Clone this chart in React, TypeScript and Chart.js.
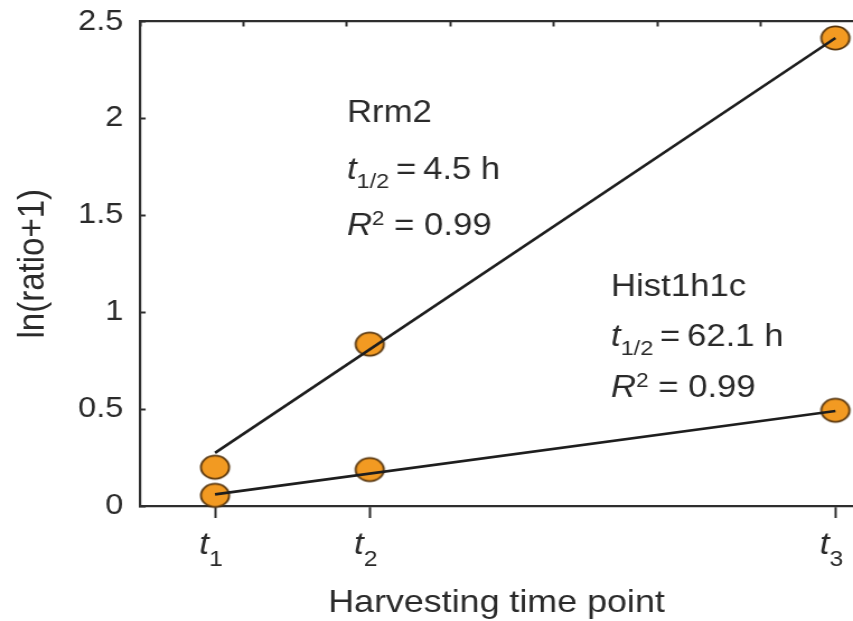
import React, { useEffect, useRef } from 'react';
import { Chart, registerables } from 'chart.js';

Chart.register(...registerables);

// ---- data ----
const timePoints = [0.725, 2.22, 6.72]; // positions of t1, t2, t3 on the time axis
const tickBase = 't';
const tickSubscripts = ['1', '2', '3'];
const rrm2Values = [0.2, 0.835, 2.415];
const hist1h1cValues = [0.055, 0.188, 0.494];
const rrm2FitEnds = [0.274, 2.415]; // fitted line at t1 and t3
const hist1h1cFitEnds = [0.06, 0.49];
const geneNames = ['Rrm2', 'Hist1h1c'];
const halfLives = ['4.5 h', '62.1 h'];
const rSquared = ['0.99', '0.99'];
const xAxisTitle = 'Harvesting time point';
const yAxisTitle = 'ln(ratio+1)';
const yMin = 0;
const yMax = 2.5;
const yStep = 0.5;
const xMin = 0;
const xMax = 6.89;

// ---- layout / style ----
const OUT_W = 853;
const OUT_H = 621;
const STRETCH = 1.12;
const IN_W = Math.round(OUT_W / STRETCH);
const S = OUT_W / IN_W;
const FONT = "'Liberation Sans', Arial, Helvetica, sans-serif";
const TEXT = '#2a2a2a';
const AXIS = '#2e2e2e';

type Seg = { text: string; size: number; italic?: boolean; dy?: number; gap?: number };

function segFont(s: Seg) {
  return `${s.italic ? 'italic ' : ''}${s.size}px ${FONT}`;
}

function drawRich(ctx: CanvasRenderingContext2D, segs: Seg[], x: number, y: number, center = false) {
  let total = 0;
  for (const s of segs) {
    ctx.font = segFont(s);
    total += (s.gap || 0) + ctx.measureText(s.text).width;
  }
  let cx = center ? x - total / 2 : x;
  for (const s of segs) {
    cx += s.gap || 0;
    ctx.font = segFont(s);
    ctx.fillText(s.text, cx, y + (s.dy || 0));
    cx += ctx.measureText(s.text).width;
  }
}

function makeMarker(): HTMLCanvasElement {
  const c = document.createElement('canvas');
  c.width = 30;
  c.height = 28;
  const g = c.getContext('2d')!;
  g.beginPath();
  g.ellipse(15, 14, 12.6, 11.6, 0, 0, Math.PI * 2);
  g.fillStyle = '#F29A22';
  g.fill();
  g.lineWidth = 1.8;
  g.strokeStyle = '#56350e';
  g.stroke();
  return c;
}

const textPlugin = {
  id: 'richText',
  afterDraw(chart: any) {
    const ctx: CanvasRenderingContext2D = chart.ctx;
    const xs = chart.scales.x;
    ctx.save();
    ctx.fillStyle = TEXT;
    ctx.textBaseline = 'alphabetic';
    ctx.textAlign = 'left';
    // x tick labels t1, t2, t3
    timePoints.forEach((v, i) => {
      const px = xs.getPixelForValue(v) - 4 / S;
      drawRich(
        ctx,
        [
          { text: tickBase, size: 31, italic: true },
          { text: tickSubscripts[i], size: 22, dy: 12, gap: 0 },
        ],
        px,
        554,
        true
      );
    });
    // annotations
    const blocks = [
      { x: 347 / S, ys: [122, 179, 235] },
      { x: 611 / S, ys: [296, 346, 397] },
    ];
    blocks.forEach((b, i) => {
      drawRich(ctx, [{ text: geneNames[i], size: 31 }], b.x, b.ys[0]);
      drawRich(
        ctx,
        [
          { text: 't', size: 31, italic: true },
          { text: '1/2', size: 21, dy: 9 },
          { text: '=', size: 31, gap: 6 },
          { text: halfLives[i], size: 31, gap: 6 },
        ],
        b.x,
        b.ys[1]
      );
      drawRich(
        ctx,
        [
          { text: 'R', size: 31, italic: true },
          { text: '2', size: 20, dy: -10 },
          { text: ' = ' + rSquared[i], size: 31 },
        ],
        b.x,
        b.ys[2]
      );
    });
    ctx.restore();
  },
};

export default function App() {
  const ref = useRef<HTMLCanvasElement>(null);

  useEffect(() => {
    const canvas = ref.current!;
    const marker = makeMarker();
    const pts = (vals: number[]) => vals.map((y, i) => ({ x: timePoints[i], y }));
    const fit = (ends: number[]) => [
      { x: timePoints[0], y: ends[0] },
      { x: timePoints[timePoints.length - 1], y: ends[1] },
    ];
    const lineDs = (label: string, ends: number[]) => ({
      label,
      data: fit(ends),
      showLine: true,
      borderColor: '#1e1e1e',
      borderWidth: 2.6,
      pointRadius: 0,
      pointHoverRadius: 0,
      clip: false as any,
    });
    const pointDs = (label: string, vals: number[]) => ({
      label,
      data: pts(vals),
      showLine: false,
      pointStyle: marker as any,
      pointRadius: 11,
      pointHoverRadius: 11,
      clip: false as any,
    });

    const chart = new Chart(canvas, {
      type: 'scatter',
      data: {
        datasets: [
          lineDs('Rrm2 fit', rrm2FitEnds),
          lineDs('Hist1h1c fit', hist1h1cFitEnds),
          pointDs('Rrm2', rrm2Values),
          pointDs('Hist1h1c', hist1h1cValues),
        ] as any,
      },
      options: {
        responsive: false,
        devicePixelRatio: 1,
        animation: false,
        events: [],
        layout: { padding: 0, autoPadding: false },
        plugins: {
          legend: { display: false },
          tooltip: { enabled: false },
        },
        scales: {
          x: {
            type: 'linear',
            position: 'bottom',
            min: xMin,
            max: xMax,
            afterBuildTicks: (s: any) => {
              s.ticks = timePoints.map((v) => ({ value: v }));
            },
            afterFit: (s: any) => {
              s.height = OUT_H - 506;
              s.paddingLeft = 0;
              s.paddingRight = 0;
            },
            ticks: { display: false },
            grid: {
              drawOnChartArea: false,
              drawTicks: true,
              tickLength: 12,
              tickWidth: 2,
              tickColor: AXIS,
              color: AXIS,
            },
            border: { display: true, color: AXIS, width: 2.2 },
            title: {
              display: true,
              text: xAxisTitle,
              color: TEXT,
              font: { family: FONT, size: 32, lineHeight: 1 },
              padding: { top: 0, bottom: 2 },
            },
          },
          x2: {
            type: 'linear',
            position: 'top',
            min: xMin,
            max: xMax,
            afterBuildTicks: (s: any) => {
              s.ticks = s.ticks.filter((t: any) => Math.abs(t.value - Math.round(t.value)) < 1e-9);
            },
            afterFit: (s: any) => {
              s.height = 21.5;
              s.paddingLeft = 0;
              s.paddingRight = 0;
            },
            ticks: { display: false, stepSize: 1 },
            grid: {
              drawOnChartArea: false,
              drawTicks: true,
              tickLength: -5,
              tickWidth: 2,
              tickColor: AXIS,
              color: AXIS,
            },
            border: { display: true, color: AXIS, width: 2.2 },
          },
          y: {
            type: 'linear',
            position: 'left',
            min: yMin,
            max: yMax,
            afterFit: (s: any) => {
              s.width = 140 / S;
              s.paddingTop = 0;
              s.paddingBottom = 0;
            },
            ticks: {
              stepSize: yStep,
              padding: 20,
              color: TEXT,
              font: { family: FONT, size: 29 },
              callback: (v: any) => String(Number(v)),
            },
            grid: {
              drawOnChartArea: false,
              drawTicks: true,
              tickLength: -5,
              tickWidth: 2,
              tickColor: AXIS,
              color: AXIS,
            },
            border: { display: true, color: AXIS, width: 2.2 },
            title: {
              display: true,
              text: yAxisTitle,
              color: TEXT,
              font: { family: FONT, size: 33 },
              padding: { top: 10, bottom: 0 },
            },
          },
        },
      } as any,
      plugins: [textPlugin],
    });
    return () => chart.destroy();
  }, []);

  return (
    <div style={{ position: 'absolute', left: 0, top: 0, width: OUT_W, height: OUT_H, background: '#fff' }}>
      <canvas
        ref={ref}
        width={IN_W}
        height={OUT_H}
        style={{ display: 'block', width: OUT_W + 'px', height: OUT_H + 'px' }}
      />
    </div>
  );
}
